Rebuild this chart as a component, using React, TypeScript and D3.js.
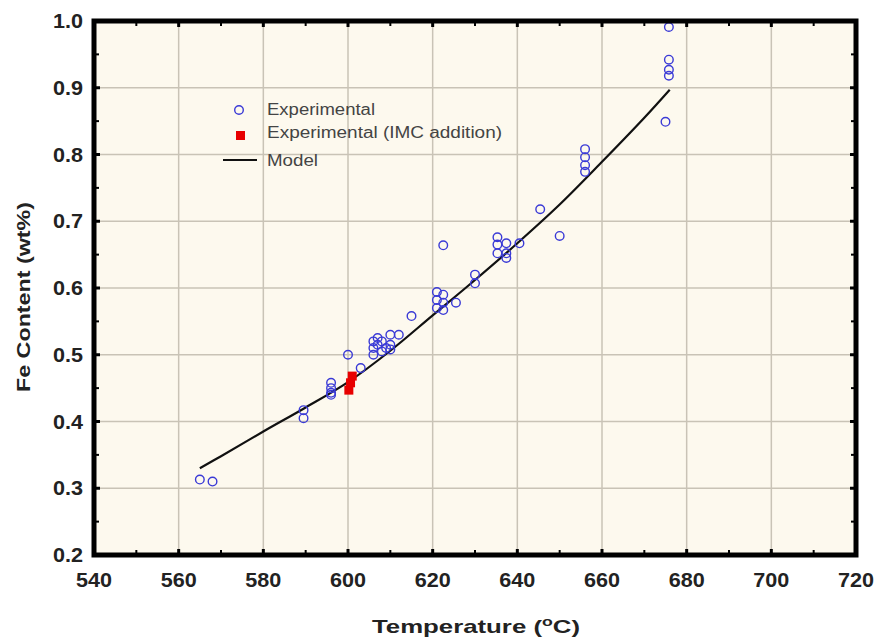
import React from "react";
import * as d3 from "d3";

const xTicks = [540, 560, 580, 600, 620, 640, 660, 680, 700, 720];
const yTicks = [0.2, 0.3, 0.4, 0.5, 0.6, 0.7, 0.8, 0.9, 1.0];

const expT = [565, 568, 589.5, 589.5, 596, 596, 596, 596, 600, 603, 606, 606, 606, 607, 607, 608, 608, 609, 610, 610, 610, 612, 615, 621, 621, 621, 622.5, 622.5, 622.5, 622.5, 625.5, 630, 630, 635.3, 635.3, 635.3, 637.4, 637.4, 637.4, 640.5, 645.4, 650, 656, 656, 656, 656, 675.8, 675.8, 675.8, 675.8, 675];
const expFe = [0.313, 0.31, 0.417, 0.405, 0.458, 0.45, 0.443, 0.44, 0.5, 0.48, 0.52, 0.51, 0.5, 0.525, 0.515, 0.52, 0.505, 0.51, 0.53, 0.515, 0.508, 0.53, 0.558, 0.594, 0.582, 0.57, 0.59, 0.578, 0.567, 0.664, 0.578, 0.62, 0.607, 0.676, 0.665, 0.652, 0.667, 0.652, 0.645, 0.667, 0.718, 0.678, 0.808, 0.796, 0.784, 0.774, 0.991, 0.942, 0.927, 0.918, 0.849];

const imcT = [600.2, 600.6, 601.0];
const imcFe = [0.447, 0.458, 0.468];

const modelT = [565, 570, 580, 590, 600, 610, 620, 630, 640, 650, 660, 670, 676];
const modelFe = [0.33, 0.348, 0.385, 0.421, 0.459, 0.506, 0.559, 0.612, 0.667, 0.725, 0.789, 0.855, 0.897];

const W = 877, H = 641;
const L = 94, R = 856, T = 21, B = 555;

export default function App() {
  const x = d3.scaleLinear().domain([540, 720]).range([L, R]);
  const y = d3.scaleLinear().domain([0.2, 1.0]).range([B, T]);
  const line = d3.line<number>().x((_, i) => x(modelT[i])).y((d) => y(d)).curve(d3.curveCatmullRom.alpha(0.5));
  const minorX = d3.range(550, 720, 20);
  const minorY = d3.range(0.25, 1.0, 0.1);
  const font = "Arial, 'Liberation Sans', sans-serif";
  return (
    <svg width={W} height={H} style={{ position: "absolute", left: 0, top: 0 }}>
      <rect x={0} y={0} width={W} height={H} fill="#fff" />
      <rect x={L} y={T} width={R - L} height={B - T} fill="#fdf9ee" />
      {xTicks.slice(1, -1).map((t) => (
        <line key={"gx" + t} x1={x(t)} x2={x(t)} y1={T} y2={B} stroke="#c9c3b6" strokeWidth={1.5} />
      ))}
      {yTicks.slice(1, -1).map((t) => (
        <line key={"gy" + t} x1={L} x2={R} y1={y(t)} y2={y(t)} stroke="#c9c3b6" strokeWidth={1.5} />
      ))}
      {xTicks.map((t) => (
        <g key={"tx" + t}>
          <line x1={x(t)} x2={x(t)} y1={B} y2={B - 6} stroke="#000" strokeWidth={3} />
          <line x1={x(t)} x2={x(t)} y1={T} y2={T + 6} stroke="#000" strokeWidth={3} />
        </g>
      ))}
      {minorX.map((t) => (
        <g key={"mx" + t}>
          <line x1={x(t)} x2={x(t)} y1={B} y2={B - 5} stroke="#000" strokeWidth={2} />
          <line x1={x(t)} x2={x(t)} y1={T} y2={T + 5} stroke="#000" strokeWidth={2} />
        </g>
      ))}
      {yTicks.map((t) => (
        <g key={"ty" + t}>
          <line x1={L} x2={L + 6} y1={y(t)} y2={y(t)} stroke="#000" strokeWidth={3} />
          <line x1={R} x2={R - 6} y1={y(t)} y2={y(t)} stroke="#000" strokeWidth={3} />
        </g>
      ))}
      {minorY.map((t) => (
        <g key={"my" + t}>
          <line x1={L} x2={L + 5} y1={y(t)} y2={y(t)} stroke="#000" strokeWidth={2} />
          <line x1={R} x2={R - 5} y1={y(t)} y2={y(t)} stroke="#000" strokeWidth={2} />
        </g>
      ))}
      <path d={line(modelFe) || ""} fill="none" stroke="#111" strokeWidth={2.2} />
      {expT.map((t, i) => (
        <circle key={"e" + i} cx={x(t)} cy={y(expFe[i])} r={4.3} fill="none" stroke="#3a3ad6" strokeWidth={1.4} />
      ))}
      {imcT.map((t, i) => (
        <rect key={"m" + i} x={x(t) - 4.5} y={y(imcFe[i]) - 4.5} width={9} height={9} fill="#e80000" />
      ))}
      <rect x={L} y={T} width={R - L} height={B - T} fill="none" stroke="#000" strokeWidth={5} />
      {xTicks.map((t) => (
        <text key={"lx" + t} x={x(t)} y={587} textAnchor="middle" fontFamily={font} fontWeight="bold" fontSize={20} fill="#222" textLength={36} lengthAdjust="spacingAndGlyphs">
          {t}
        </text>
      ))}
      {yTicks.map((t) => (
        <text key={"ly" + t} x={83} y={y(t) + 7} textAnchor="end" fontFamily={font} fontWeight="bold" fontSize={20} fill="#222" textLength={30} lengthAdjust="spacingAndGlyphs">
          {t.toFixed(1)}
        </text>
      ))}
      <text x={372} y={633} fontFamily={font} fontWeight="bold" fontSize={19} fill="#222" textLength={208} lengthAdjust="spacingAndGlyphs">
        Temperature (<tspan dy={-7} fontSize={13}>o</tspan><tspan dy={7}>C)</tspan>
      </text>
      <text transform="translate(30,392) rotate(-90)" fontFamily={font} fontWeight="bold" fontSize={19} fill="#222" textLength={190} lengthAdjust="spacingAndGlyphs">
        Fe Content (wt%)
      </text>
      <circle cx={239} cy={110} r={4.3} fill="none" stroke="#3a3ad6" strokeWidth={1.4} />
      <text x={267} y={115} fontFamily={font} fontSize={16} fill="#444" textLength={108} lengthAdjust="spacingAndGlyphs">Experimental</text>
      <rect x={236} y={131} width={9} height={9} fill="#e80000" />
      <text x={267} y={138} fontFamily={font} fontSize={16} fill="#444" textLength={235} lengthAdjust="spacingAndGlyphs">Experimental (IMC addition)</text>
      <line x1={223} x2={257} y1={160} y2={160} stroke="#111" strokeWidth={2} />
      <text x={267} y={166} fontFamily={font} fontSize={16} fill="#444" textLength={51} lengthAdjust="spacingAndGlyphs">Model</text>
    </svg>
  );
}
